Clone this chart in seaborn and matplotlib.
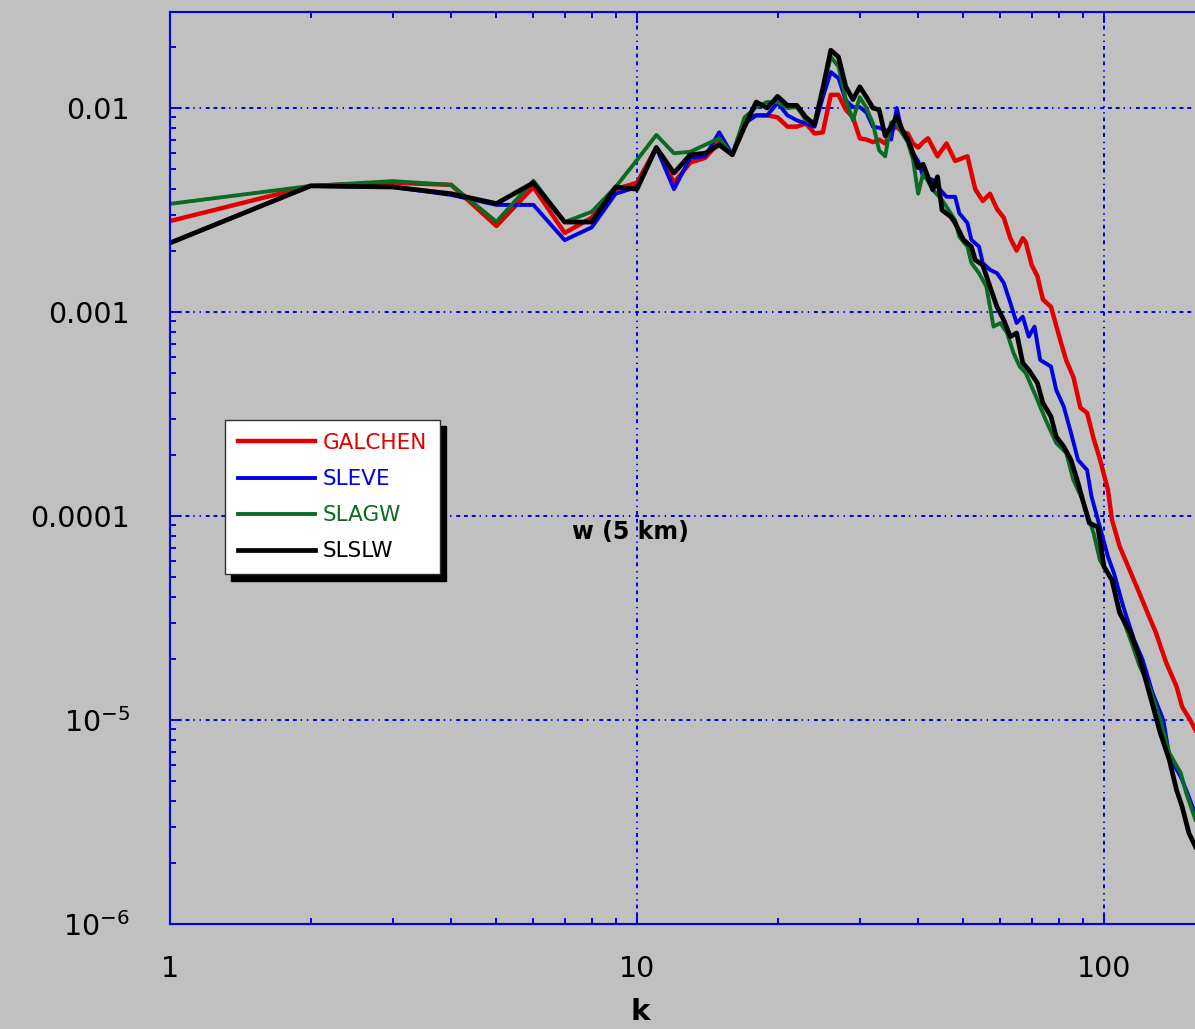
import numpy as np
import pandas as pd
import matplotlib
matplotlib.use("Agg")
import matplotlib.pyplot as plt
import seaborn as sns

# ---- spectra of vertical velocity w at 5 km, by wavenumber k ----
k_low = list(range(1, 42))

k_galchen = k_low + [42, 44, 46, 48, 51, 53, 55, 57, 59, 61, 63, 65, 67, 68, 70, 72, 74, 77,
                     81, 83, 86, 89, 92, 95, 98, 102, 104, 108, 114, 119, 125, 129, 136,
                     143, 147, 153, 157]
w_galchen = [0.00279, 0.00415, 0.0043, 0.0042, 0.00264, 0.0041, 0.00244, 0.0029, 0.0040, 0.0043,
             0.0064, 0.0043, 0.0054, 0.0057, 0.0068, 0.0059, 0.0087, 0.0092, 0.0092, 0.0090,
             0.0081, 0.0081, 0.0084, 0.0075, 0.0076, 0.0116, 0.0116, 0.0098, 0.0090, 0.0071,
             0.0070, 0.0068, 0.0070, 0.0067, 0.0078, 0.0081, 0.0076, 0.0075, 0.0067, 0.0064,
             0.0068,
             0.0071, 0.0058, 0.0067, 0.0055, 0.0058, 0.0040, 0.0035, 0.0038, 0.0032, 0.0029,
             0.0023, 0.0020, 0.0023, 0.0022, 0.0017, 0.0015, 0.00115, 0.00106, 0.00070, 0.00058,
             0.00048, 0.00034, 0.00032, 0.00024, 0.00019, 0.000134, 9.6e-5, 7.1e-5, 5.3e-5,
             4.2e-5, 3.2e-5, 2.7e-5, 1.9e-5, 1.46e-5, 1.16e-5, 1.0e-5, 8.9e-6]

k_sleve = k_low + [43, 44, 46, 48, 49, 51, 52, 54, 55, 57, 59, 61, 63, 65, 67, 69, 71, 73, 77,
                   79, 82, 85, 88, 92, 94, 98, 102, 105, 110, 116, 121, 127, 134, 138, 146,
                   150, 154, 157]
w_sleve = [0.00218, 0.00415, 0.0041, 0.00375, 0.00335, 0.00335, 0.00225, 0.0026, 0.0038, 0.0041,
           0.0064, 0.0040, 0.0057, 0.0058, 0.0076, 0.0059, 0.0084, 0.0092, 0.0092, 0.0106,
           0.0092, 0.0087, 0.0084, 0.0081, 0.0113, 0.0150, 0.0140, 0.0109, 0.0101, 0.0101,
           0.0095, 0.0081, 0.0080, 0.0078, 0.0070, 0.0100, 0.0075, 0.0071, 0.0060, 0.0055,
           0.0046,
           0.00444, 0.00411, 0.00367, 0.00367, 0.00305, 0.00273, 0.00226, 0.00209, 0.00174,
           0.00161, 0.00155, 0.00139, 0.00111, 0.000883, 0.000948, 0.000757, 0.000848,
           0.000582, 0.000540, 0.000415, 0.000344, 0.000255, 0.000188, 0.000168, 0.000125,
           8.83e-5, 6.31e-5, 5.26e-5, 3.59e-5, 2.47e-5, 1.97e-5, 1.36e-5, 1.0e-5, 6.61e-6,
           5.27e-6, 4.54e-6, 3.87e-6, 3.46e-6]

k_slagw = k_low + [43, 45, 46, 48, 49, 51, 52, 54, 56, 58, 60, 62, 64, 66, 68, 72, 75, 79, 83,
                   86, 90, 95, 98, 104, 108, 114, 119, 125, 132, 138, 146, 150, 157]
w_slagw = [0.00339, 0.00415, 0.00438, 0.0042, 0.00277, 0.0044, 0.00276, 0.0031, 0.0041, 0.00556,
           0.00738, 0.0060, 0.0061, 0.0066, 0.0071, 0.0059, 0.0090, 0.0101, 0.0107, 0.0107,
           0.0100, 0.0101, 0.0087, 0.0083, 0.0123, 0.0178, 0.0160, 0.0110, 0.0087, 0.0113,
           0.0100, 0.0084, 0.0062, 0.0058, 0.0085, 0.0084, 0.0075, 0.0068, 0.0056, 0.0038,
           0.0048,
           0.00397, 0.00354, 0.00328, 0.00282, 0.00234, 0.00209, 0.00174, 0.00155, 0.00133,
           0.000848, 0.000883, 0.000789, 0.000630, 0.000540, 0.000502, 0.000371, 0.000296,
           0.000228, 0.000204, 0.000150, 0.000120, 8.26e-5, 6.08e-5, 4.85e-5, 3.46e-5,
           2.47e-5, 1.86e-5, 1.46e-5, 1.0e-5, 6.89e-6, 5.49e-6, 4.38e-6, 3.24e-6]

k_slslw = k_low + [43, 44, 45, 47, 48, 50, 52, 53, 55, 57, 59, 61, 63, 65, 67, 69, 72, 74, 77,
                   79, 82, 85, 88, 90, 93, 97, 100, 104, 108, 114, 119, 125, 132, 138, 143,
                   147, 152, 157]
w_slslw = [0.00218, 0.00415, 0.0041, 0.0038, 0.0034, 0.0043, 0.00276, 0.00276, 0.0041, 0.0040,
           0.0064, 0.0048, 0.0059, 0.0060, 0.0066, 0.0059, 0.0081, 0.0107, 0.0100, 0.0114,
           0.0103, 0.0103, 0.0090, 0.0083, 0.0125, 0.0192, 0.0178, 0.0127, 0.0110, 0.0127,
           0.0113, 0.0100, 0.0098, 0.0073, 0.0081, 0.0091, 0.0078, 0.0070, 0.0060, 0.0051,
           0.0053,
           0.00397, 0.0046, 0.00316, 0.00293, 0.00273, 0.00226, 0.00209, 0.00180, 0.00170,
           0.00133, 0.00106, 0.000914, 0.000757, 0.000789, 0.000562, 0.000520, 0.000449,
           0.000358, 0.000307, 0.000245, 0.000219, 0.000188, 0.000145, 0.000120, 9.24e-5,
           8.83e-5, 5.65e-5, 4.85e-5, 3.35e-5, 2.67e-5, 2.04e-5, 1.36e-5, 8.63e-6, 6.37e-6,
           4.54e-6, 3.76e-6, 2.79e-6, 2.39e-6]

series_names = ["GALCHEN", "SLEVE", "SLAGW", "SLSLW"]
series_k = [k_galchen, k_sleve, k_slagw, k_slslw]
series_w = [w_galchen, w_sleve, w_slagw, w_slslw]
series_colors = ["#e00000", "#0000e0", "#0b6b23", "#000000"]
series_lw = [3.2, 2.8, 2.8, 3.4]

x_ticks = [1, 10, 100]
x_ticklabels = ["1", "10", "100"]
y_ticks = [1e-6, 1e-5, 1e-4, 1e-3, 1e-2]
y_ticklabels = [r"$10^{-6}$", r"$10^{-5}$", "0.0001", "0.001", "0.01"]

bg = "#c0c0c0"
axis_blue = "#0000ee"

plt.rcParams["font.family"] = ["DejaVu Sans"]
plt.rcParams["mathtext.fontset"] = "dejavusans"
plt.rcParams["axes.unicode_minus"] = False

fig = plt.figure(figsize=(11.95, 10.29), dpi=100, facecolor=bg)
W, H = 1195, 1029
ax = fig.add_axes([170 / W, 1 - 924 / H, (1195 - 170) / W, (924 - 12) / H])
ax.set_facecolor(bg)

for name, ks, ws, col, lw in zip(series_names, series_k, series_w, series_colors, series_lw):
    df = pd.DataFrame({"k": ks, "w": ws})
    sns.lineplot(data=df, x="k", y="w", ax=ax, color=col, linewidth=lw,
                 estimator=None, sort=False, label=name)

ax.set_xscale("log")
ax.set_yscale("log")
ax.set_xlim(1, 10 ** ((1195 - 170) / 467))
ax.set_ylim(1e-6, 10 ** (-2 + 96 / 204))

ax.set_xticks(x_ticks)
ax.set_xticklabels(x_ticklabels)
ax.set_yticks(y_ticks)
ax.set_yticklabels(y_ticklabels)

for side in ["left", "bottom", "top"]:
    ax.spines[side].set_color(axis_blue)
    ax.spines[side].set_linewidth(1.5)
ax.spines["right"].set_visible(False)

ax.tick_params(which="both", direction="in", color=axis_blue, width=1.4,
               top=True, right=False)
ax.tick_params(which="major", length=8)
ax.tick_params(which="minor", length=4)
ax.tick_params(axis="y", which="major", labelsize=20.5, pad=29)
ax.tick_params(axis="x", which="major", labelsize=20.5, pad=22)

grid_ls = (0, (2, 2, 2, 2, 2, 2, 0.7, 2.5, 0.7, 2.5))
ax.grid(True, which="major", color=axis_blue, linestyle=grid_ls, linewidth=1.4)
ax.grid(False, which="minor")

ax.set_ylabel("")
ax.set_xlabel("k", fontsize=21, fontweight="bold")
ax.xaxis.label.set_va("center")
ax.xaxis.set_label_coords((640 - 170) / 1025, (924 - 1012) / 912)

ax.text((630 - 170) / 1025, (924 - 532) / 912, "w (5 km)", transform=ax.transAxes,
        ha="center", va="center", fontsize=17, fontweight="bold", color="black")

leg = ax.legend(loc="upper left", bbox_to_anchor=(225 / W, 1 - 420 / H),
                bbox_transform=fig.transFigure, borderaxespad=0, fontsize=15.5,
                handlelength=3.6, handletextpad=0.35, labelspacing=0.75, borderpad=0.6,
                fancybox=False, framealpha=1, facecolor="white", edgecolor="#303030",
                shadow={"ox": 4.5, "oy": -4.5, "color": "black", "alpha": 1})
leg.get_frame().set_linewidth(1.0)
for txt, col in zip(leg.get_texts(), series_colors):
    txt.set_color(col)

fig.savefig("out.png", dpi=100, facecolor=bg)
